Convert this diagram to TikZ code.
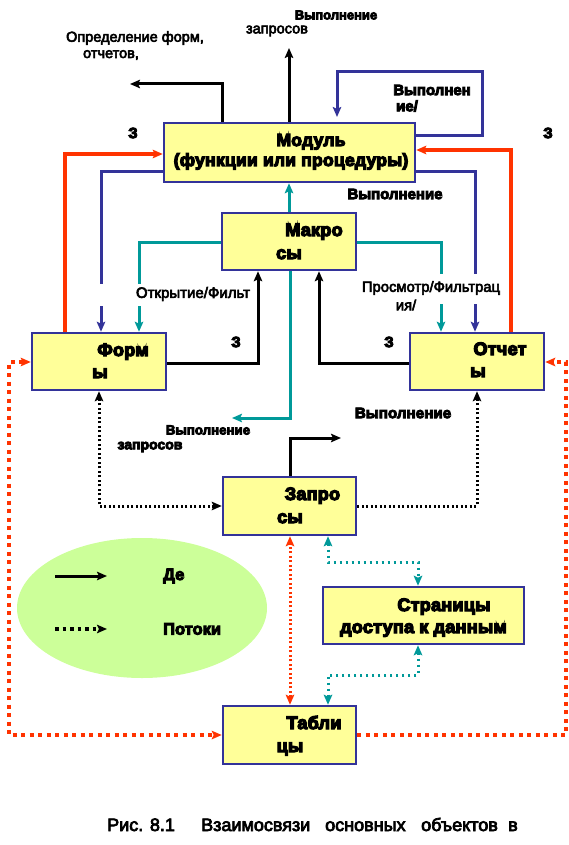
\documentclass[tikz,border=0pt]{standalone}
\usepackage{fontspec}
\setmainfont{Liberation Sans}
\newfontfamily\heavyfont[LetterSpace=1.5,FakeBold=7]{Liberation Sans}
\newfontfamily\heavyfontB[FakeBold=6]{Liberation Sans}
\newfontfamily\medfont[FakeBold=4]{Liberation Sans}
\usetikzlibrary{arrows.meta,shapes.geometric}
\definecolor{boxblue}{HTML}{333399}
\definecolor{boxfill}{HTML}{FFFF99}
\definecolor{myred}{HTML}{FF3300}
\definecolor{myteal}{HTML}{009999}
\definecolor{legfill}{HTML}{CCFF99}
\tikzset{
  box/.style={draw=boxblue, fill=boxfill, line width=2.5pt, inner sep=0pt},
  lbl/.style={font=\heavyfont\bfseries\fontsize{18}{20}\selectfont, inner sep=0pt, anchor=base},
  lblm/.style={font=\heavyfont\bfseries\fontsize{17.5}{19}\selectfont, inner sep=0pt, anchor=base},
  sm/.style={font=\heavyfontB\bfseries\fontsize{#1}{15}\selectfont, inner sep=0pt},
  sm/.default=13,
  smr/.style={font=\medfont\fontsize{#1}{15}\selectfont, inner sep=0pt},
  smr/.default=14.5,
  captext/.style={font=\medfont\fontsize{18}{20}\selectfont, inner sep=0pt, anchor=base west},
  tipk/.style={-{Stealth[length=10pt,width=8.5pt,inset=2pt]}},
  solidk/.style={draw=black, line width=3pt, tipk},
  bl/.style={draw=boxblue, line width=3pt, tipk},
  rd/.style={draw=myred, line width=3.5pt, tipk},
  tl/.style={draw=myteal, line width=3pt, tipk},
  dotk/.style={draw=black, line width=3pt, dash pattern=on 2pt off 2.5pt},
  dotkb/.style={draw=black, line width=3.5pt, dash pattern=on 3.5pt off 4pt},
  rdf/.style={draw=myred, line width=3pt, dash pattern=on 2pt off 2.5pt},
  rdd/.style={draw=myred, line width=4pt, dash pattern=on 4pt off 4.5pt},
  tld/.style={draw=myteal, line width=3pt, dash pattern=on 2.5pt off 3.5pt},
  bothtips/.style={{Stealth[length=10pt,width=8.5pt,inset=2pt]}-{Stealth[length=10pt,width=8.5pt,inset=2pt]}},
}
\begin{document}
\begin{tikzpicture}[x=1pt,y=-1pt]
\useasboundingbox (0,0) rectangle (569,845);

% legend ellipse
\node[ellipse, fill=legfill, draw=none, minimum width=250pt, minimum height=140pt, inner sep=0pt] (leg) at (142,608) {};

% free end points
\coordinate (defEnd) at (130,84);
\coordinate (zapTop) at (289,48);
\coordinate (loopEnd) at (337,117);
\coordinate (zapMid) at (232,418);
\coordinate (vypEnd) at (341,438);
\coordinate (legA1) at (55,576);
\coordinate (legA2) at (107,576);
\coordinate (legB1) at (55,629);
\coordinate (legB2) at (107,629);

% boxes
\node[box, minimum width=251pt, minimum height=59pt] (mod) at (289.5,152.5) {};
\node[box, minimum width=134pt, minimum height=57pt] (mac) at (289,241.5) {};
\node[box, minimum width=134pt, minimum height=57pt] (fo) at (99,361.5) {};
\node[box, minimum width=134pt, minimum height=57pt] (re) at (477,361.5) {};
\node[box, minimum width=133pt, minimum height=58pt] (qu) at (289.5,506) {};
\node[box, minimum width=201pt, minimum height=57pt] (pa) at (423.5,615.5) {};
\node[box, minimum width=133pt, minimum height=58pt] (ta) at (289.5,735) {};

% module outputs
\draw[solidk] (mod.north -| 222,0) |- (defEnd);
\draw[solidk] (mod.north -| zapTop) -- (zapTop);
\draw[bl] (mod.east |- 0,136) -| (482,72) -| (loopEnd);
\draw[rd] (fo.north -| 65,0) |- (mod.west |- 0,154);
\draw[rd] (re.north -| 511,0) |- (mod.east |- 0,150);
\draw[bl] (mod.west |- 0,172) -| (fo.north -| 101,0);
\draw[bl] (mod.east |- 0,172) -| (re.north -| 475,0);

% macros
\draw[tl] (mac.north -| 289,0) -- (mod.south -| 289,0);
\draw[tl] (mac.west |- 0,242) -| (fo.north -| 139,0);
\draw[tl] (mac.east |- 0,242) -| (re.north -| 441,0);
\draw[tl] (mac.south -| 290,0) |- (zapMid);
\draw[solidk] (fo.east |- 0,363) -| (mac.south -| 258,0);
\draw[solidk] (re.west |- 0,363) -| (mac.south -| 319,0);

% queries
\draw[solidk] (qu.north -| 290,0) |- (vypEnd);
\draw[dotk, bothtips] (qu.west |- 0,506) -| (fo.south -| 99,0);
\draw[dotk, tipk] (qu.east |- 0,506) -| (re.south -| 477,0);
\draw[rdf, bothtips] (ta.north -| 290,0) -- (qu.south -| 290,0);
\draw[tld, bothtips] (qu.south -| 328,0) -- (328,562) -| (pa.north -| 418,0);
\draw[tld, bothtips] (pa.south -| 418,0) -- (418,675) -| (ta.north -| 328,0);
\draw[rdd, bothtips] (fo.west |- 0,362) -| (9,735) -- (ta.west |- 0,735);
\draw[rdd, tipk] (ta.east |- 0,735) -| (566,362) -- (re.east |- 0,362);

% legend arrows
\draw[solidk] (legA1) -- (legA2);
\draw[dotkb, tipk] (legB1) -- (legB2);

% gaps behind labels
\fill[white] (95,284) rectangle (148,306);
\fill[white] (435,274) rectangle (481,304);

% box texts
\node[lblm] (t1) at (311,146) {Модуль};
\node[lblm] (t2) at (291,166) {(функции или процедуры)};
\node[lbl] (t3) at (314,236) {Макро};
\node[lbl] (t4) at (289,259) {сы};
\node[lbl] (t5) at (123,356) {Форм};
\node[lbl] (t6) at (100,378) {ы};
\node[lbl] (t7) at (500,355) {Отчет};
\node[lbl] (t8) at (478,377) {ы};
\node[lbl] (t9) at (312.5,500) {Запро};
\node[lbl] (t10) at (290,523) {сы};
\node[lbl] (t11) at (444,611) {Страницы};
\node[lbl] (t12) at (423.5,633) {доступа к данным};
\node[lbl] (t13) at (314,729) {Табли};
\node[lbl] (t14) at (290,752) {цы};

% labels
\node[smr] (l1) at (135,38) {Определение форм,};
\node[smr] (l2) at (111,55) {отчетов,};
\node[sm] (l3) at (336,15) {Выполнение};
\node[smr] (l4) at (277,31) {запросов};
\node[sm=15] (l5) at (432,90) {Выполнен};
\node[sm=15] (l6) at (407,106) {ие/};
\node[sm=15] (l7) at (133,133) {З};
\node[sm=15] (l8) at (548,133) {З};
\node[sm=15] (l9) at (395,194) {Выполнение};
\node[smr=15] (l10) at (193,294) {Открытие/Фильт};
\node[smr=14.8] (l11) at (431,288) {Просмотр/Фильтрац};
\node[smr=14.8] (l12) at (406,305) {ия/};
\node[sm=15] (l13) at (236,342) {З};
\node[sm=15] (l14) at (389,342) {З};
\node[sm=15.2] (l15) at (403,413) {Выполнение};
\node[sm=13.3] (l16) at (208,430) {Выполнение};
\node[sm=14] (l17) at (150,447) {запросов};
\node[sm=16.5, anchor=west] (l18) at (163,576) {Де};
\node[sm=16.5, anchor=west] (l19) at (163,629) {Потоки};

% caption
\node[captext] (c1) at (107,831) {Рис. 8.1};
\node[captext] (c2) at (201,831) {Взаимосвязи};
\node[captext] (c3) at (325,831) {основных};
\node[captext] (c4) at (421,831) {объектов};
\node[captext] (c5) at (508,831) {в};
\end{tikzpicture}
\end{document}
